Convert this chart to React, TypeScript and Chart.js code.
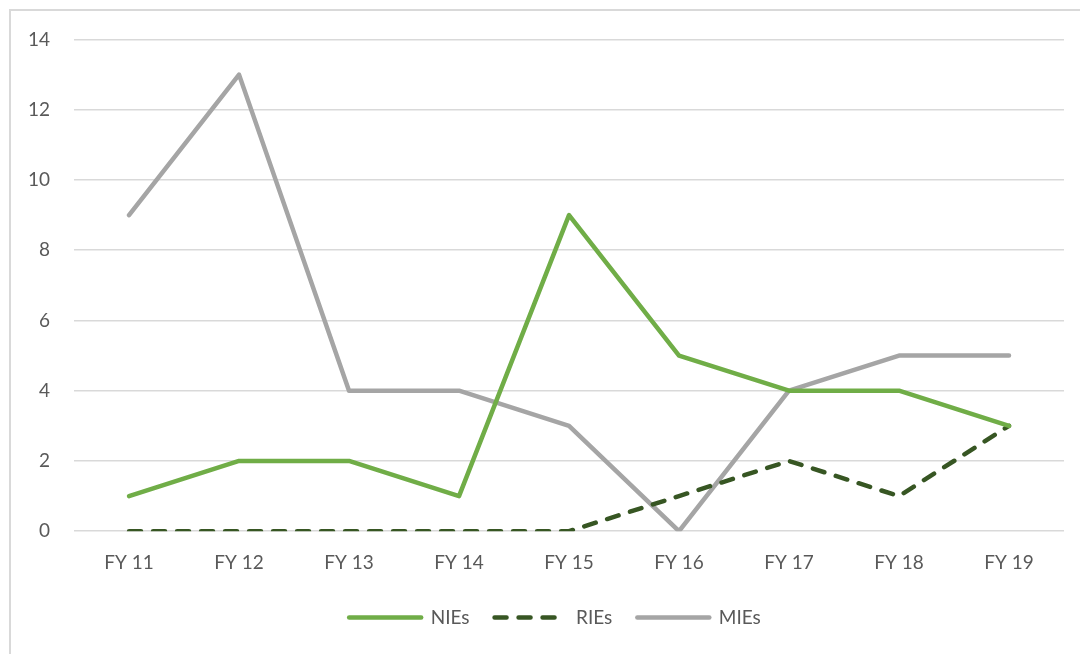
import React, { useEffect, useRef } from "react";
import { Chart, registerables } from "chart.js";

Chart.register(...registerables);

const categories = ["FY 11", "FY 12", "FY 13", "FY 14", "FY 15", "FY 16", "FY 17", "FY 18", "FY 19"];
const niesValues = [1, 2, 2, 1, 9, 5, 4, 4, 3];
const riesValues = [0, 0, 0, 0, 0, 1, 2, 1, 3];
const miesValues = [9, 13, 4, 4, 3, 0, 4, 5, 5];
const yTicks = [0, 2, 4, 6, 8, 10, 12, 14];

const legendShift = {
  id: "legendShift",
  afterLayout(chart: any) {
    const l = chart.legend;
    if (l) {
      l.left += 21;
      l.right += 21;
    }
  },
};

export default function App() {
  const ref = useRef<HTMLCanvasElement>(null);
  useEffect(() => {
    if (!ref.current) return;
    const font = { family: "Lato, 'Open Sans', sans-serif", size: 19 };
    const chart = new Chart(ref.current, {
      type: "line",
      data: {
        labels: categories,
        datasets: [
          {
            label: "NIEs",
            data: niesValues,
            borderColor: "#70AD47",
            backgroundColor: "#70AD47",
            borderWidth: 4.5,
            pointRadius: 0,
            tension: 0,
            borderJoinStyle: "round",
            borderCapStyle: "round",
          },
          {
            label: "RIEs",
            data: riesValues,
            borderColor: "#375623",
            backgroundColor: "#375623",
            borderWidth: 4.5,
            borderDash: [12, 12],
            pointRadius: 0,
            tension: 0,
            borderJoinStyle: "round",
            borderCapStyle: "round",
          },
          {
            label: "MIEs",
            data: miesValues,
            borderColor: "#A5A5A5",
            backgroundColor: "#A5A5A5",
            borderWidth: 4.5,
            pointRadius: 0,
            tension: 0,
            borderJoinStyle: "round",
            borderCapStyle: "round",
          },
        ],
      },
      plugins: [legendShift],
      options: {
        animation: false,
        responsive: false,
        maintainAspectRatio: false,
        layout: { padding: { left: 4, right: 16, top: 39.5, bottom: 17 } },
        scales: {
          x: {
            offset: true,
            grid: { display: false, drawTicks: false },
            border: { display: false },
            ticks: { color: "#595959", font, padding: 20, maxRotation: 0 },
            afterFit: (axis: any) => {
              axis.height -= 11;
            },
          },
          y: {
            min: 0,
            max: 14,
            afterBuildTicks: (axis: any) => {
              axis.ticks = yTicks.map((v) => ({ value: v }));
            },
            grid: { color: "#D9D9D9", lineWidth: 1.5, drawTicks: false },
            border: { display: false },
            ticks: { color: "#595959", font, padding: 24 },
          },
        },
        plugins: {
          legend: {
            position: "bottom",
            labels: {
              color: "#595959",
              font,
              usePointStyle: true,
              pointStyle: "line",
              pointStyleWidth: 72,
              padding: 25,
              generateLabels: (ch: any) =>
                ch.data.datasets.map((ds: any, i: number) => ({
                  text: ds.label,
                  fillStyle: ds.borderColor,
                  strokeStyle: ds.borderColor,
                  lineWidth: ds.borderWidth,
                  lineDash: ds.borderDash || [],
                  lineCap: "round",
                  pointStyle: "line",
                  fontColor: "#595959",
                  hidden: false,
                  datasetIndex: i,
                })),
            },
          },
          tooltip: { enabled: false },
        },
      },
    });
    return () => chart.destroy();
  }, []);
  return (
    <div style={{ position: "fixed", left: 0, top: 0, width: 1080, height: 654, overflow: "hidden", background: "#fff" }}>
      <div
        style={{
          position: "absolute",
          left: 9,
          top: 9,
          width: 1300,
          height: 900,
          border: "2px solid #D9D9D9",
          boxSizing: "border-box",
        }}
      />
      <canvas ref={ref} width={1080} height={654} style={{ position: "absolute", left: 0, top: 0 }} />
    </div>
  );
}
